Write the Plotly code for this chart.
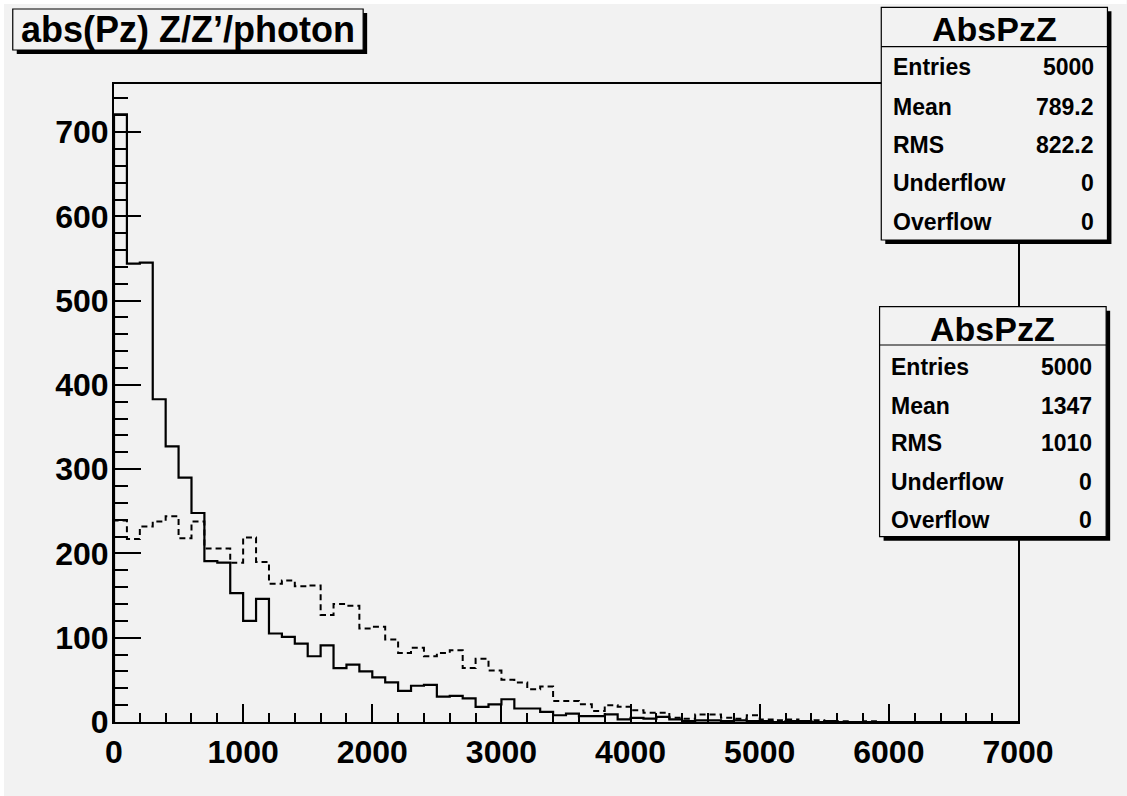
import numpy as np
import plotly.graph_objects as go

# ---------------- data ----------------
XMIN, XMAX, NBINS = 0, 7000, 70
title_text = "abs(Pz) Z/Z\u2019/photon"

# solid histogram (AbsPzZ, mean 789.2)
counts_solid = [721, 544, 545, 383, 327, 290, 248, 191, 189, 153,
                120, 146, 105, 101, 93, 78, 91, 64, 68, 60,
                53, 47, 37, 43, 44, 30, 31, 28, 18, 21,
                27, 16, 16, 12, 8, 10, 7, 7, 9, 3,
                5, 4, 6, 3, 1, 2, 2, 1, 2, 1,
                1, 0, 1, 1, 0, 1, 0, 0, 0, 0,
                0, 0, 0, 0, 0, 0, 0, 0, 0, 0]
# dashed histogram (AbsPzZ, mean 1347)
counts_dashed = [239, 217, 232, 238, 244, 218, 238, 206, 206, 189,
                 219, 190, 164, 168, 161, 162, 127, 140, 138, 111,
                 113, 98, 82, 88, 78, 82, 85, 64, 75, 61,
                 50, 47, 39, 42, 25, 25, 21, 13, 20, 18,
                 14, 11, 11, 5, 4, 9, 9, 5, 4, 8,
                 3, 2, 3, 1, 2, 1, 1, 0, 1, 0,
                 0, 0, 0, 0, 0, 0, 0, 0, 0, 0]

stats_labels = ["Entries", "Mean", "RMS", "Underflow", "Overflow"]
stats_solid = ["5000", "789.2", "822.2", "0", "0"]
stats_dashed = ["5000", "1347", "1010", "0", "0"]
stats_name = "AbsPzZ"

x_ticks = [0, 1000, 2000, 3000, 4000, 5000, 6000, 7000]
y_ticks = [0, 100, 200, 300, 400, 500, 600, 700]

# ---------------- geometry ----------------
W, H = 1127, 796
PL, PR, PT, PB = 114, 1018.5, 84, 722
BG = "#f2f2f2"
FONT = "Liberation Sans, Arial, sans-serif"

ymax = 1.05 * max(max(counts_solid), max(counts_dashed))


def fx(px):
    return (px - PL) / (PR - PL)


def fy(py):
    return (PB - py) / (PB - PT)


def step_xy(counts):
    edges = np.linspace(XMIN, XMAX, NBINS + 1)
    xs = [edges[0]] + list(edges[:-1]) + [edges[-1], edges[-1]]
    ys = [0] + list(counts) + [counts[-1], 0]
    return xs, ys


fig = go.Figure()
xs, ys = step_xy(counts_solid)
fig.add_trace(go.Scatter(x=xs, y=ys, mode="lines", line=dict(shape="hv", color="black", width=2.2),
                         showlegend=False, hoverinfo="skip"))
xs, ys = step_xy(counts_dashed)
fig.add_trace(go.Scatter(x=xs, y=ys, mode="lines",
                         line=dict(shape="hv", color="black", width=2, dash="6px,4px"),
                         showlegend=False, hoverinfo="skip"))

shapes = []
annotations = []


def box(x0, y0, x1, y1, shadow=4):
    shapes.append(dict(type="rect", xref="paper", yref="paper",
                       x0=fx(x0 + shadow), x1=fx(x1 + shadow), y0=fy(y0 + shadow), y1=fy(y1 + shadow),
                       fillcolor="black", line=dict(width=0), layer="above"))
    shapes.append(dict(type="rect", xref="paper", yref="paper",
                       x0=fx(x0), x1=fx(x1), y0=fy(y0), y1=fy(y1),
                       fillcolor=BG, line=dict(color="black", width=1.2), layer="above"))


def text(px, py, s, size, xanchor="center"):
    annotations.append(dict(xref="paper", yref="paper", x=fx(px), y=fy(py), text=s,
                            showarrow=False, xanchor=xanchor, yanchor="middle",
                            font=dict(family=FONT, size=size, color="black", weight="bold")))


# title box
box(12.7, 9, 363.3, 50)
text(188, 30, title_text, 36)


def stats_box(x0, y0, x1, y1, yhead, yline, rows_y, xl, xr, values):
    box(x0, y0, x1, y1)
    shapes.append(dict(type="line", xref="paper", yref="paper", x0=fx(x0), x1=fx(x1),
                       y0=fy(yline), y1=fy(yline), line=dict(color="black", width=1.2), layer="above"))
    text((x0 + x1) / 2, yhead, stats_name, 34)
    for lab, val, ry in zip(stats_labels, values, rows_y):
        text(xl, ry, lab, 23, "left")
        text(xr, ry, val, 23, "right")


stats_box(881.7, 7.3, 1108, 240, 29, 46.7, [66.7, 106.7, 145, 183.3, 221.7], 891, 1097, stats_solid)
stats_box(880, 306.7, 1106.7, 536.7, 329, 345, [366.7, 406, 443.3, 481.7, 520], 889.5, 1095, stats_dashed)

# thin white canvas border top/left
shapes.append(dict(type="rect", xref="paper", yref="paper", x0=fx(0), x1=fx(W), y0=fy(0), y1=fy(4),
                   fillcolor="white", line=dict(width=0), layer="above"))
shapes.append(dict(type="rect", xref="paper", yref="paper", x0=fx(0), x1=fx(4), y0=fy(0), y1=fy(H),
                   fillcolor="white", line=dict(width=0), layer="above"))

tickfont = dict(family=FONT, size=32, color="black", weight="bold")
fig.update_layout(
    width=W, height=H,
    margin=dict(l=PL, r=W - PR, t=PT, b=H - PB, pad=0),
    paper_bgcolor=BG, plot_bgcolor=BG,
    shapes=shapes, annotations=annotations,
    showlegend=False,
    xaxis=dict(range=[XMIN, XMAX], tickvals=x_ticks, ticktext=[str(v) for v in x_ticks],
               ticks="inside", ticklen=18, tickwidth=2, tickcolor="black",
               minor=dict(ticks="inside", ticklen=9, tickwidth=2, tickcolor="black", dtick=200, showgrid=False),
               showline=True, linecolor="black", linewidth=2, mirror=True,
               showgrid=False, zeroline=False, tickfont=tickfont, ticklabelstandoff=1),
    yaxis=dict(range=[0, ymax], tickvals=y_ticks, ticktext=[str(v) for v in y_ticks],
               ticks="inside", ticklen=27, tickwidth=2, tickcolor="black",
               minor=dict(ticks="inside", ticklen=14, tickwidth=2, tickcolor="black", dtick=20, showgrid=False),
               showline=True, linecolor="black", linewidth=2, mirror=True,
               showgrid=False, zeroline=False, tickfont=tickfont, ticklabelstandoff=-3),
)

fig.write_html("out.html")
